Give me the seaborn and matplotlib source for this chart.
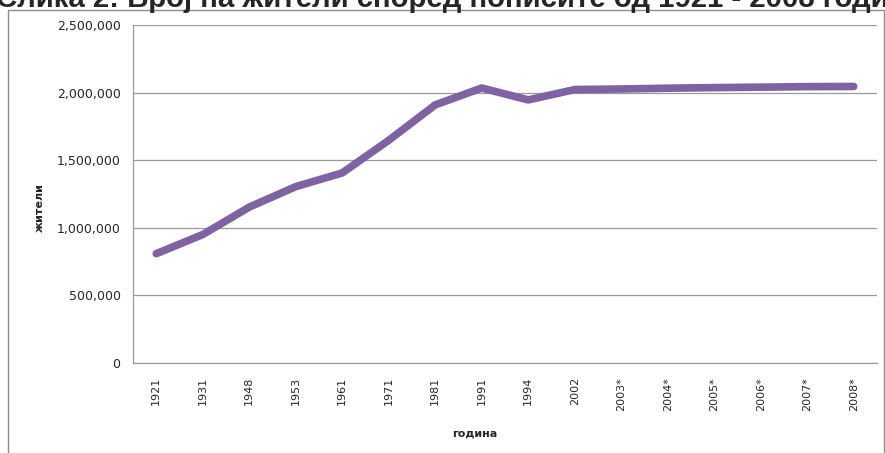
import matplotlib
matplotlib.use("Agg")
import matplotlib.pyplot as plt
import matplotlib.ticker as mticker
from matplotlib.patches import Rectangle
import numpy as np
import pandas as pd
import seaborn as sns

# Population by census year
years = ["1921", "1931", "1948", "1953", "1961", "1971", "1981", "1991",
         "1994", "2002", "2003*", "2004*", "2005*", "2006*", "2007*", "2008*"]
population = [808724, 949958, 1152986, 1304514, 1406003, 1647308, 1909136, 2033964,
              1945932, 2022547, 2026773, 2032544, 2036855, 2040228, 2044263, 2045177]
y_ticks = [0, 500000, 1000000, 1500000, 2000000, 2500000]

df = pd.DataFrame({"година": years, "жители": population})

sns.set_style("white")
plt.rcParams["font.family"] = ["DejaVu Sans"]

fig = plt.figure(figsize=(8.85, 4.53), dpi=100)
ax = fig.add_axes([133 / 885, 1 - 363 / 453, (877 - 133) / 885, (363 - 25) / 453])

sns.lineplot(data=df, x="година", y="жители", ax=ax, color="#7F62A1",
             linewidth=5.5, solid_capstyle="round", solid_joinstyle="round", sort=False)

ax.set_ylim(0, 2500000)
ax.set_xlim(-0.5, len(years) - 0.5)
ax.set_yticks(y_ticks)
ax.yaxis.set_major_formatter(mticker.FuncFormatter(lambda v, p: f"{int(v):,}"))
ax.yaxis.grid(True, color="#9a9a9a", linewidth=0.9)
ax.set_axisbelow(True)

ax.set_xticks(np.arange(len(years)))
ax.set_xticklabels(years, rotation=90)
ax.set_xticks(np.arange(len(years) + 1) - 0.5, minor=True)
ax.tick_params(axis="x", which="major", length=0, pad=10, labelsize=8)
ax.tick_params(axis="x", which="minor", length=5, color="#9a9a9a", width=0.9)
ax.tick_params(axis="y", which="major", length=5, color="#9a9a9a", width=0.9, labelsize=9, pad=4)

for side in ["top", "right"]:
    ax.spines[side].set_visible(False)
for side in ["left", "bottom"]:
    ax.spines[side].set_color("#9a9a9a")
    ax.spines[side].set_linewidth(0.9)

ax.set_xlabel("година", fontsize=8, fontweight="bold")
ax.set_ylabel("жители", fontsize=8, fontweight="bold")
ax.xaxis.set_label_coords((475 - 133) / (877 - 133), -(428 - 363) / (363 - 25))
ax.yaxis.set_label_coords(-(133 - 45) / (877 - 133), (363 - 208) / (363 - 25))

# chart frame
fig.patches.append(Rectangle((8 / 885, -0.05), 876 / 885, 1.05 - 10 / 453, transform=fig.transFigure,
                             fill=False, edgecolor="#8c8c8c", linewidth=1))

fig.text(-0.004, 1 - 7 / 453, "Слика 2: Број на жители според пописите од 1921 - 2008 година",
         fontsize=21.2, fontweight="bold", ha="left", va="baseline", family="Liberation Sans")

fig.savefig("out.png", dpi=100)
